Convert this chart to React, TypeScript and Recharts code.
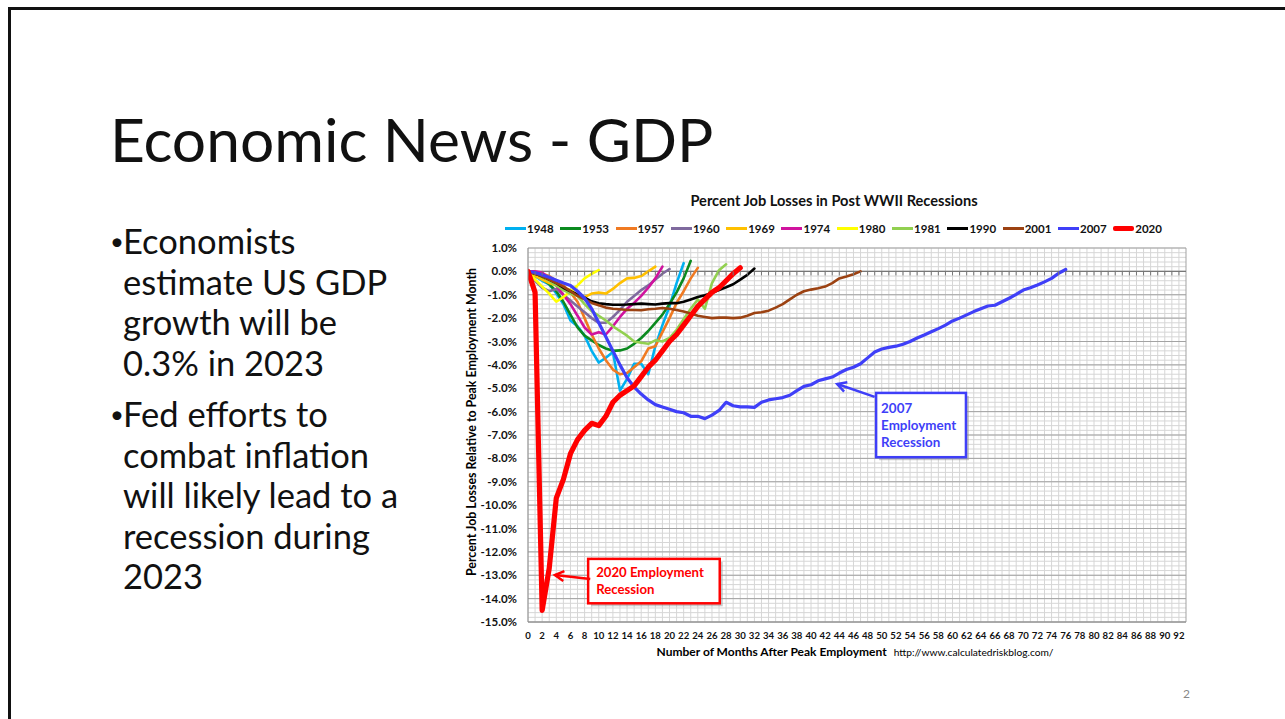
import React from 'react';
import {
  ComposedChart,
  Line,
  XAxis,
  YAxis,
  CartesianGrid,
  ReferenceLine,
  ReferenceArea,
  Scatter,
} from 'recharts';

// ---------- data ----------
const MONTHS: number[] = Array.from({ length: 93 }, (_, i) => i);
const X_TICKS: number[] = MONTHS.filter((m) => m % 2 === 0);
const Y_TICKS: number[] = [1, 0, -1, -2, -3, -4, -5, -6, -7, -8, -9, -10, -11, -12, -13, -14, -15];
const Y_MINOR: number[] = Array.from({ length: 81 }, (_, i) => Math.round((1 - i * 0.2) * 10) / 10);

const r1948 = [0, -0.2, -0.4, -0.55, -0.95, -1.4, -2.1, -2.35, -2.75, -3.4, -3.9, -3.7, -3.45, -5.1, -4.6, -3.95, -3.95, -4.4, -3.2, -2.3, -1.5, -0.5, 0.35];
const r1953 = [0, -0.1, -0.3, -0.55, -0.85, -1.3, -1.85, -2.4, -2.75, -2.95, -3.15, -3.3, -3.4, -3.38, -3.3, -3.1, -2.85, -2.55, -2.2, -1.85, -1.4, -0.9, -0.3, 0.45];
const r1957 = [0, -0.05, -0.1, -0.2, -0.4, -0.6, -0.9, -1.3, -2.0, -2.7, -3.3, -3.8, -4.2, -4.4, -4.35, -4.1, -3.85, -3.3, -3.2, -2.6, -2.0, -1.35, -0.85, -0.3, 0.15];
const r1960 = [0, -0.4, -0.7, -0.85, -0.75, -1.0, -1.25, -1.5, -1.75, -2.0, -2.2, -2.2, -1.95, -1.65, -1.3, -1.05, -0.8, -0.6, -0.35, -0.1, 0.1];
const r1969 = [0, -0.2, -0.35, -0.5, -0.6, -0.7, -0.8, -1.0, -1.1, -0.95, -0.9, -0.95, -0.75, -0.5, -0.3, -0.28, -0.2, 0.0, 0.2];
const r1974 = [0, 0.0, -0.05, -0.3, -0.6, -1.0, -1.4, -1.9, -2.4, -2.7, -2.6, -2.7, -2.35, -1.95, -1.6, -1.35, -1.05, -0.7, -0.3, 0.2];
const r1980 = [0, -0.35, -0.65, -0.95, -1.3, -1.1, -0.85, -0.6, -0.3, -0.1, 0.05];
const r1981 = [0, -0.1, -0.2, -0.4, -0.6, -0.8, -0.95, -1.05, -1.4, -1.7, -1.9, -2.1, -2.35, -2.55, -2.75, -3.0, -3.05, -3.1, -2.95, -3.0, -2.85, -2.5, -2.05, -1.6, -1.2, -1.6, -0.5, 0.05, 0.3];
const r1990 = [0, -0.1, -0.2, -0.35, -0.5, -0.7, -0.85, -1.0, -1.12, -1.28, -1.36, -1.4, -1.43, -1.43, -1.42, -1.4, -1.38, -1.4, -1.42, -1.38, -1.36, -1.36, -1.3, -1.2, -1.1, -1.02, -0.92, -0.8, -0.68, -0.55, -0.35, -0.15, 0.12];
const r2001 = [0, -0.1, -0.2, -0.35, -0.5, -0.65, -0.85, -1.05, -1.2, -1.35, -1.45, -1.55, -1.6, -1.62, -1.65, -1.65, -1.66, -1.62, -1.6, -1.57, -1.6, -1.65, -1.72, -1.8, -1.9, -1.95, -2.0, -1.98, -1.98, -2.0, -1.98, -1.9, -1.78, -1.75, -1.68, -1.55, -1.4, -1.2, -1.0, -0.85, -0.78, -0.72, -0.65, -0.5, -0.3, -0.22, -0.12, 0.0];
const r2007 = [0, -0.05, -0.15, -0.25, -0.38, -0.5, -0.6, -0.85, -1.15, -1.6, -2.2, -2.8, -3.4, -4.0, -4.55, -4.95, -5.25, -5.5, -5.7, -5.8, -5.9, -6.0, -6.05, -6.2, -6.2, -6.3, -6.15, -5.95, -5.6, -5.75, -5.8, -5.8, -5.82, -5.6, -5.5, -5.45, -5.4, -5.3, -5.1, -4.92, -4.85, -4.68, -4.6, -4.52, -4.35, -4.2, -4.1, -3.95, -3.7, -3.45, -3.32, -3.25, -3.2, -3.12, -3.0, -2.85, -2.72, -2.58, -2.45, -2.3, -2.12, -2.0, -1.86, -1.72, -1.6, -1.48, -1.45, -1.3, -1.15, -0.98, -0.8, -0.7, -0.58, -0.45, -0.3, -0.08, 0.08];
const r2020 = [0, -0.9, -14.5, -12.7, -9.7, -8.9, -7.8, -7.2, -6.8, -6.5, -6.6, -6.2, -5.6, -5.3, -5.1, -4.9, -4.5, -4.1, -3.8, -3.4, -3.0, -2.7, -2.3, -1.9, -1.5, -1.2, -0.9, -0.7, -0.4, -0.1, 0.15];

const LEGEND_NAMES = ['1948', '1953', '1957', '1960', '1969', '1974', '1980', '1981', '1990', '2001', '2007', '2020'];
const SERIES_VALUES = [r1948, r1953, r1957, r1960, r1969, r1974, r1980, r1981, r1990, r2001, r2007, r2020];

const CHART_TITLE = 'Percent Job Losses in Post WWII Recessions';
const X_LABEL = 'Number of Months After Peak Employment';
const X_SOURCE = 'http://www.calculatedriskblog.com/';
const Y_LABEL = 'Percent Job Losses Relative to Peak Employment Month';

// annotations (data coordinates)
const BOX_2007 = { x1: 49.2, x2: 61.9, y1: -5.2, y2: -7.95, lines: ['2007', 'Employment', 'Recession'] };
const ARROW_2007 = { from: { x: 49.0, y: -5.37 }, to: { x: 43.7, y: -4.82 } };
const BOX_2020 = { x1: 8.5, x2: 27.1, y1: -12.3, y2: -14.2, lines: ['2020 Employment', 'Recession'] };
const ARROW_2020 = { from: { x: 8.8, y: -13.16 }, to: { x: 3.8, y: -12.99 } };

// ---------- styles ----------
const COLORS = ['#00B0F0', '#0B8A1F', '#F07A22', '#7F6A9E', '#FFC000', '#D0139E', '#FFFF00', '#92D050', '#000000', '#9C4212', '#3F3FF8', '#FF0000'];
const WIDTHS = [2.6, 2.6, 2.6, 2.6, 2.6, 2.6, 2.6, 2.6, 2.6, 2.6, 3.2, 5.2];
const CHART_FONT = 'Lato, "Open Sans", sans-serif';

const keyOf = (name: string) => 'y' + name;

const tableData = MONTHS.map((m) => {
  const row: Record<string, number | undefined> = { m };
  LEGEND_NAMES.forEach((n, i) => {
    row[keyOf(n)] = SERIES_VALUES[i][m];
  });
  return row;
});

const zeroTicks = MONTHS.map((m) => ({ m, z: 0 }));

const makeArrow = (color: string) => (p: any) => {
  const { x1, y1, x2, y2 } = p;
  if ([x1, y1, x2, y2].some((v) => typeof v !== 'number' || isNaN(v))) return <g />;
  const ang = Math.atan2(y2 - y1, x2 - x1);
  const L = 9;
  const W = 5;
  const ax = x2 - L * Math.cos(ang);
  const ay = y2 - L * Math.sin(ang);
  return (
    <g>
      <line x1={x1} y1={y1} x2={x2} y2={y2} stroke={color} strokeWidth={2.5} />
      <polyline
        points={`${ax - W * Math.sin(ang)},${ay + W * Math.cos(ang)} ${x2},${y2} ${ax + W * Math.sin(ang)},${ay - W * Math.cos(ang)}`}
        fill="none"
        stroke={color}
        strokeWidth={2.5}
        strokeLinejoin="miter"
      />
    </g>
  );
};

const makeBox = (color: string, lines: string[], padX: number, lineH: number, fs: number) => (p: any) => {
  const { x, y, width, height } = p;
  if ([x, y, width, height].some((v) => typeof v !== 'number' || isNaN(v))) return <g />;
  const top = Math.min(y, y + height);
  const h = Math.abs(height);
  const startY = top + h / 2 - ((lines.length - 1) * lineH) / 2;
  return (
    <g>
      <rect x={x + 3} y={top + 3} width={width} height={h} fill="#9a9a9a" opacity={0.55} />
      <rect x={x} y={top} width={width} height={h} fill="#ffffff" stroke={color} strokeWidth={2.5} />
      {lines.map((t, i) => (
        <text
          key={t}
          x={x + padX}
          y={startY + i * lineH}
          dy="0.35em"
          fill={color}
          fontSize={fs}
          fontWeight={700}
          fontFamily={CHART_FONT}
        >
          {t}
        </text>
      ))}
    </g>
  );
};

const XLabel = (props: any) => {
  const vb = props.viewBox || {};
  const cx = (vb.x || 0) + (vb.width || 0) / 2 - 2;
  const y = (vb.y || 0) + 34;
  return (
    <text x={cx} y={y} textAnchor="middle" fontFamily={CHART_FONT} fill="#000">
      <tspan fontSize={12} fontWeight={700}>{X_LABEL}</tspan>
      <tspan fontSize={10.2} fontWeight={400} dx={7}>{X_SOURCE}</tspan>
    </text>
  );
};

const YLabel = (props: any) => {
  const vb = props.viewBox || {};
  const x = (vb.x || 0) + 4;
  const cy = (vb.y || 0) + (vb.height || 0) / 2 - 13;
  return (
    <text
      x={x}
      y={cy}
      textAnchor="middle"
      fontFamily={CHART_FONT}
      fontSize={12.4}
      fontWeight={700}
      fill="#000"
      transform={`rotate(-90 ${x} ${cy})`}
      dy="0.35em"
    >
      {Y_LABEL}
    </text>
  );
};

const fmtPct = (v: number) => `${v.toFixed(1)}%`;

const BULLETS = [
  ['Economists', 'estimate US GDP', 'growth will be', '0.3% in 2023'],
  ['Fed efforts to', 'combat inflation', 'will likely lead to a', 'recession during', '2023'],
];
const SLIDE_TITLE = 'Economic News - GDP';
const PAGE_NO = '2';

export default function App() {
  const slideFont = 'Lato, "Open Sans", sans-serif';
  return (
    <div style={{ position: 'fixed', left: 0, top: 0, width: 1285, height: 719, background: '#fff', overflow: 'hidden' }}>
      {/* slide frame */}
      <div
        style={{
          position: 'absolute',
          left: 8,
          top: 7,
          width: 1300,
          height: 730,
          borderLeft: '3px solid #111',
          borderTop: '3px solid #111',
          boxSizing: 'border-box',
        }}
      />
      {/* slide title */}
      <div
        style={{
          position: 'absolute',
          left: 110,
          top: 102,
          fontFamily: slideFont,
          fontSize: 60.5,
          lineHeight: '74px',
          color: '#111',
          whiteSpace: 'nowrap',
        }}
      >
        {SLIDE_TITLE}
      </div>
      {/* bullets */}
      {BULLETS.map((b, bi) => (
        <div
          key={bi}
          style={{
            position: 'absolute',
            left: 110,
            top: bi === 0 ? 221 : 394,
            fontFamily: slideFont,
            fontSize: 34.5,
            lineHeight: '40.5px',
            color: '#111',
            whiteSpace: 'nowrap',
          }}
        >
          {b.map((line, li) => (
            <div key={li} style={{ position: 'relative', paddingLeft: 13 }}>
              {li === 0 && (
                <span style={{ position: 'absolute', left: 0, top: 0, fontSize: 24, lineHeight: '40.5px' }}>•</span>
              )}
              {line}
            </div>
          ))}
        </div>
      ))}
      {/* page number */}
      <div style={{ position: 'absolute', left: 1183, top: 686, fontFamily: slideFont, fontSize: 12, color: '#888' }}>{PAGE_NO}</div>

      {/* chart title */}
      <div
        style={{
          position: 'absolute',
          left: 534,
          width: 600,
          top: 192,
          textAlign: 'center',
          fontFamily: CHART_FONT,
          fontSize: 14.6,
          fontWeight: 700,
          color: '#111',
        }}
      >
        {CHART_TITLE}
      </div>
      {/* legend */}
      <div style={{ position: 'absolute', left: 505, top: 220, display: 'flex', fontFamily: CHART_FONT }}>
        {LEGEND_NAMES.map((n, i) => (
          <div key={n} style={{ width: 55.3, display: 'flex', alignItems: 'center', height: 16 }}>
            <div style={{ width: 21, height: i === 11 ? 5 : 3, background: COLORS[i], borderRadius: i === 11 ? 2 : 0, marginRight: 1 }} />
            <span style={{ fontSize: 11.5, fontWeight: 700, color: '#111' }}>{n}</span>
          </div>
        ))}
      </div>

      <div style={{ position: 'absolute', left: 440, top: 180 }}>
        <ComposedChart width={760} height={490} data={tableData} margin={{ top: 68, right: 14, bottom: 18, left: 28 }}>
          <CartesianGrid horizontalValues={Y_MINOR} verticalValues={MONTHS} stroke="#D6D6D6" strokeWidth={1} />
          <CartesianGrid horizontalValues={Y_TICKS} vertical={false} stroke="#A3A3A3" strokeWidth={1} />
          <XAxis
            dataKey="m"
            type="number"
            domain={[0, 93]}
            ticks={X_TICKS}
            interval={0}
            allowDataOverflow
            tickLine={false}
            axisLine={{ stroke: '#8c8c8c' }}
            tick={{ fontSize: 9.6, fontWeight: 700, fill: '#111', fontFamily: CHART_FONT }}
            tickSize={6}
            tickMargin={4}
            height={30}
            label={<XLabel />}
          />
          <YAxis
            type="number"
            domain={[-15, 1]}
            ticks={Y_TICKS}
            interval={0}
            allowDataOverflow
            tickFormatter={fmtPct}
            tickLine={false}
            axisLine={{ stroke: '#8c8c8c' }}
            tick={{ fontSize: 11.5, fontWeight: 700, fill: '#111', fontFamily: CHART_FONT }}
            tickSize={6}
            tickMargin={5}
            width={60}
            label={<YLabel />}
          />
          <ReferenceLine x={93} stroke="#A3A3A3" />
          <ReferenceLine y={0} stroke="#777" strokeWidth={1.2} />
          <Scatter
            data={zeroTicks}
            dataKey="z"
            isAnimationActive={false}
            shape={(p: any) => <line x1={p.cx} y1={p.cy} x2={p.cx} y2={p.cy + 4} stroke="#777" strokeWidth={1} />}
          />
          {LEGEND_NAMES.map((n, i) => (
            <Line
              key={n}
              dataKey={keyOf(n)}
              name={n}
              type="linear"
              stroke={COLORS[i]}
              strokeWidth={WIDTHS[i]}
              dot={false}
              activeDot={false}
              isAnimationActive={false}
              strokeLinejoin="round"
              strokeLinecap="round"
            />
          ))}
          <ReferenceLine
            segment={[ARROW_2007.from, ARROW_2007.to]}
            shape={makeArrow('#3F3FF8')}
            ifOverflow="visible"
          />
          <ReferenceArea
            x1={BOX_2007.x1}
            x2={BOX_2007.x2}
            y1={BOX_2007.y1}
            y2={BOX_2007.y2}
            shape={makeBox('#3F3FF8', BOX_2007.lines, 5, 17, 13.4)}
            ifOverflow="visible"
          />
          <ReferenceLine
            segment={[ARROW_2020.from, ARROW_2020.to]}
            shape={makeArrow('#FF0000')}
            ifOverflow="visible"
          />
          <ReferenceArea
            x1={BOX_2020.x1}
            x2={BOX_2020.x2}
            y1={BOX_2020.y1}
            y2={BOX_2020.y2}
            shape={makeBox('#FF0000', BOX_2020.lines, 8, 17, 13.2)}
            ifOverflow="visible"
          />
        </ComposedChart>
      </div>
    </div>
  );
}
